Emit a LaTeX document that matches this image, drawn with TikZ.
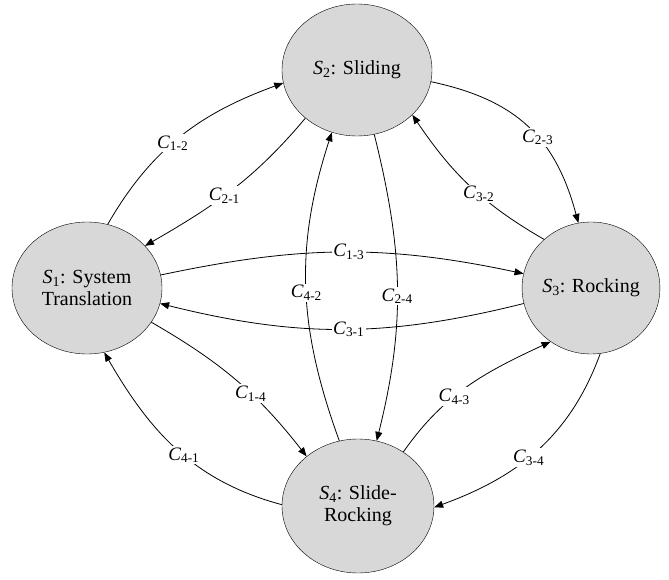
\documentclass[tikz,border=0pt]{standalone}
\usepackage{fontspec}
\setmainfont{Liberation Serif}
\usepackage{tikz}
\usetikzlibrary{arrows.meta,shapes.geometric}
\definecolor{stategray}{RGB}{216,216,216}
\newcommand{\st}[1]{\textit{S}\textsubscript{#1}}
\newcommand{\cst}[1]{\textit{C}\textsubscript{#1}}

\begin{document}
\begin{tikzpicture}[
  x=1pt, y=1pt,
  state/.style={ellipse, draw, fill=stategray, inner sep=0pt,
                minimum width=150pt, minimum height=132pt, align=center,
                font=\fontsize{20}{22}\selectfont},
  arr/.style={-{Triangle[length=9pt,width=7pt]}, line width=0.8pt},
  lbl/.style={fill=white, inner sep=1.5pt, font=\fontsize{19}{21}\selectfont}
]
\useasboundingbox (0,0) rectangle (669,579);
\node[state] (s1) at (87,291) {\st{1}: System\\Translation};
\node[state] (s2) at (357,509) {\st{2}: Sliding};
\node[state, minimum width=130pt] (s3) at (591,291) {\st{3}: Rocking};
\node[state, minimum width=152pt, minimum height=134pt] (s4) at (358,73) {\st{4}: Slide-\\Rocking};
\draw[arr] (s1.72) to[out=60, in=200] node[lbl, pos=0.45] {\cst{1-2}} (s2.190);
\draw[arr] (s2.223) to[out=230, in=30] node[lbl, pos=0.55] {\cst{2-1}} (s1.36);
\draw[arr] (s2.351) to[out=-12, in=105, looseness=1.1] node[lbl, pos=0.57] {\cst{2-3}} (s3.101);
\draw[arr] (s3.134) to[out=150, in=-56] node[lbl, pos=0.43] {\cst{3-2}} (s2.321);
\draw[arr] (s1.10) to[out=12, in=168] node[lbl, pos=0.52] {\cst{1-3}} (s3.168);
\draw[arr] (s3.193) to[out=194, in=-14] node[lbl, pos=0.48] {\cst{3-1}} (s1.348);
\draw[arr] (s4.106) to[out=110, in=252] node[lbl, pos=0.48] {\cst{4-2}} (s2.248);
\draw[arr] (s2.285) to[out=284, in=76] node[lbl, pos=0.53] {\cst{2-4}} (s4.74);
\draw[arr] (s1.332) to[out=-30, in=128] node[lbl, pos=0.6] {\cst{1-4}} (s4.136);
\draw[arr] (s4.179) to[out=165, in=-60] node[lbl, pos=0.46] {\cst{4-1}} (s1.285);
\draw[arr] (s4.50) to[out=55, in=205] node[lbl, pos=0.4] {\cst{4-3}} (s3.233);
\draw[arr] (s3.278) to[out=250, in=20] node[lbl, pos=0.55] {\cst{3-4}} (s4.359);
\end{tikzpicture}
\end{document}
